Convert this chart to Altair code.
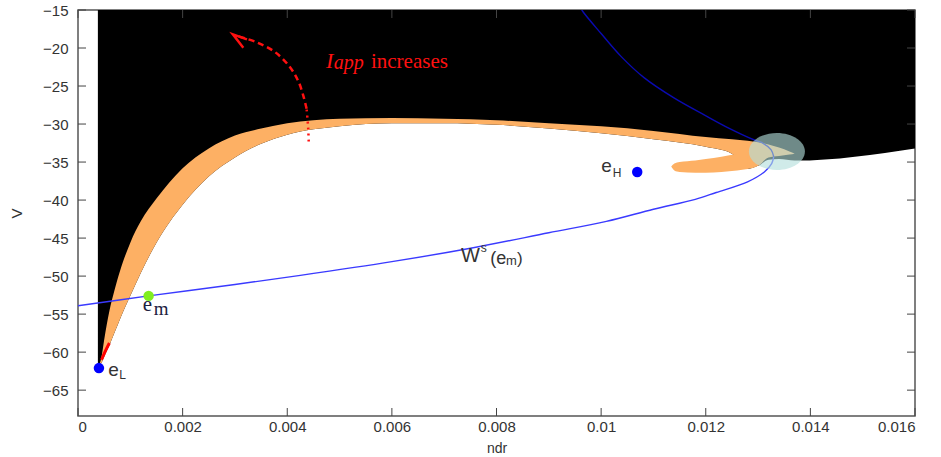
import altair as alt
import pandas as pd

# ---------------- data ----------------
# orange band (outer = upper edge, inner = lower edge)
band_x = [0.0004, 0.00045, 0.0005, 0.0006, 0.0007, 0.0008, 0.001, 0.0012, 0.0015, 0.002,
          0.0025, 0.003, 0.0035, 0.004, 0.005, 0.006, 0.007, 0.008, 0.009, 0.010,
          0.011, 0.012, 0.0125, 0.0128, 0.013, 0.0132, 0.0134, 0.0136, 0.0137]
band_outer = [-61.8, -60.6, -58.4, -54.6, -51.8, -49.4, -45.6, -42.8, -39.8, -35.8,
              -33.2, -31.5, -30.6, -29.9, -29.3, -29.2, -29.3, -29.5, -29.9, -30.3,
              -30.9, -31.7, -32.0, -32.2, -32.4, -32.7, -33.1, -33.6, -33.9]
band_inner = [-61.8, -61.4, -60.6, -59.1, -57.4, -55.7, -52.6, -49.6, -45.6, -40.6,
              -36.9, -34.4, -32.6, -31.4, -30.3, -29.9, -29.9, -30.1, -30.6, -31.2,
              -32.0, -33.0, -33.9, -35.9, -35.5, -34.4, -34.2, -34.0, -33.9]

# orange hook under the band's right end
hook_x = [0.01134, 0.0114, 0.0115, 0.0118, 0.012, 0.0123, 0.0126, 0.0128]
hook_top = [-35.6, -35.2, -35.0, -34.8, -34.6, -34.3, -34.0, -34.0]
hook_bottom = [-35.6, -36.1, -36.3, -36.4, -36.4, -36.3, -36.1, -35.9]

# lower boundary of the black region
black_x = [0.00038, 0.0004, 0.00045, 0.0005, 0.0006, 0.0007, 0.0008, 0.001, 0.0012, 0.0015,
           0.002, 0.0025, 0.003, 0.0035, 0.004, 0.005, 0.006, 0.007, 0.008, 0.009,
           0.010, 0.011, 0.012, 0.0125, 0.0128, 0.013, 0.0132, 0.0134, 0.0137, 0.016]
black_v = [-61.8, -61.8, -61.4, -60.6, -59.1, -57.4, -55.7, -52.6, -49.6, -45.6,
           -40.6, -36.9, -34.4, -32.6, -31.4, -30.3, -29.9, -29.9, -30.1, -30.6,
           -31.2, -32.0, -33.0, -33.9, -35.9, -35.5, -34.7, -34.6, -34.8, -33.2]

# stable manifold W^s(e_m): lower branch (on white) and upper branch (on black)
ws_lower_x = [0.0, 0.00135, 0.003, 0.00425, 0.006, 0.00745, 0.009, 0.0101, 0.011,
              0.0118, 0.0122, 0.0128, 0.01312, 0.01326, 0.0133]
ws_lower_v = [-53.9, -52.6, -51.1, -49.9, -48.1, -46.4, -44.3, -42.8, -41.2,
              -39.9, -39.0, -37.6, -36.3, -35.2, -34.3]
ws_upper_x = [0.0133, 0.01325, 0.01309, 0.01293, 0.01240, 0.01197, 0.0114, 0.01082,
              0.01038, 0.0100, 0.00965, 0.0096]
ws_upper_v = [-34.3, -33.4, -32.5, -32.1, -30.4, -28.8, -26.6, -23.9,
              -21.1, -18.1, -15.2, -14.6]

# red "I_app increases" arrow
arrow_dot_x = [0.00441, 0.00440, 0.00437]
arrow_dot_v = [-32.3, -30.5, -28.0]
arrow_dash_x = [0.00437, 0.00432, 0.00422, 0.00405, 0.00376, 0.00340, 0.00298]
arrow_dash_v = [-28.0, -26.6, -24.5, -22.5, -20.5, -19.2, -18.3]
head_x = [0.00323, 0.00296, 0.00316]
head_v = [-18.86, -18.2, -19.96]

# red sliver near e_L
red_x = [0.00045, 0.00052, 0.0006]
red_v = [-61.0, -59.9, -58.8]

# highlighted zone (ellipse)
zone_x = [0.01336]
zone_v = [-33.6]

# equilibria
eq_name = ["e_L", "e_H", "e_m"]
eq_x = [0.0004, 0.01069, 0.00135]
eq_v = [-62.1, -36.3, -52.6]
eq_color = ["#0000ff", "#0000ff", "#80ee20"]

x_ticks = [0, 0.002, 0.004, 0.006, 0.008, 0.010, 0.012, 0.014, 0.016]
y_ticks = [-65, -60, -55, -50, -45, -40, -35, -30, -25, -20, -15]

W, H = 837, 406
XDOM = [0, 0.016]
YDOM = [-68.4, -15]

xs = alt.Scale(domain=XDOM, nice=False, zero=False)
ys = alt.Scale(domain=YDOM, nice=False, zero=False)

def X():
    return alt.X("x:Q", scale=xs)

def Y():
    return alt.Y("v:Q", scale=ys)

base_axes_x = alt.Axis(values=x_ticks, format=".3~f", grid=False, ticks=False, tickSize=0,
                       domain=False, labelFont="Liberation Sans", labelFontSize=15,
                       labelColor="#333333", labelPadding=3, titleFont="Liberation Sans",
                       titleFontSize=14, titleFontWeight="normal", titleColor="#333333",
                       titlePadding=7)
base_axes_y = alt.Axis(values=y_ticks, format="d", grid=False, ticks=False, tickSize=0,
                       domain=False, labelFont="Liberation Sans", labelFontSize=15,
                       labelColor="#333333", labelPadding=10, titleFont="Liberation Sans",
                       titleFontSize=15, titleFontWeight="normal", titleColor="#333333",
                       titlePadding=18)

df_black = pd.DataFrame({"x": black_x, "v": black_v})
black = alt.Chart(df_black).mark_area(color="#000000", interpolate="monotone").encode(
    x=alt.X("x:Q", scale=xs, axis=base_axes_x, title="ndr"),
    y=alt.Y("v:Q", scale=ys, axis=base_axes_y, title="V"),
    y2=alt.datum(-15),
)

df_band = pd.DataFrame({"x": band_x, "v": band_outer, "v2": band_inner})
band = alt.Chart(df_band).mark_area(color="#fdb064", interpolate="monotone").encode(
    x=X(), y=Y(), y2="v2:Q")

df_hook = pd.DataFrame({"x": hook_x, "v": hook_top, "v2": hook_bottom})
hook = alt.Chart(df_hook).mark_area(color="#fdb064", interpolate="monotone").encode(
    x=X(), y=Y(), y2="v2:Q")

def line(xv, vv, color, width, dash=None, interp="catmull-rom"):
    df = pd.DataFrame({"x": xv, "v": vv, "o": list(range(len(xv)))})
    kw = dict(color=color, strokeWidth=width, clip=True, interpolate=interp)
    if dash:
        kw["strokeDash"] = dash
    return alt.Chart(df).mark_line(**kw).encode(x=X(), y=Y(), order="o:Q")

ws_lo = line(ws_lower_x, ws_lower_v, "#3a3aff", 1.4)
ws_up = line(ws_upper_x, ws_upper_v, "#0a0ab0", 1.4)
arr_dot = line(arrow_dot_x, arrow_dot_v, "#ff1010", 2.5, [2, 4])
arr_dash = line(arrow_dash_x, arrow_dash_v, "#ff1010", 2.5, [6, 4])
arr_head = line(head_x, head_v, "#ff1010", 2.5, interp="linear")
red_sl = line(red_x, red_v, "#ff0000", 3)

df_zone = pd.DataFrame({"x": zone_x, "v": zone_v})
zone = alt.Chart(df_zone).mark_point(
    shape="M -1 0 A 1 0.66 0 1 1 1 0 A 1 0.66 0 1 1 -1 0 Z",
    size=3136, filled=True, fill="#b3dedb", opacity=0.62, strokeWidth=0,
).encode(x=X(), y=Y())

df_eq = pd.DataFrame({"x": eq_x, "v": eq_v, "c": eq_color, "name": eq_name})
eqs = alt.Chart(df_eq).mark_point(filled=True, opacity=1, size=110, shape="circle").encode(
    x=X(), y=Y(), color=alt.Color("c:N", scale=None))

def txt(x, v, t, size, color, font="Liberation Sans", style="normal"):
    df = pd.DataFrame({"x": [x], "v": [v], "t": [t]})
    return alt.Chart(df).mark_text(align="left", baseline="alphabetic", fontSize=size,
                                   font=font, fontStyle=style, color=color).encode(
        x=X(), y=Y(), text="t:N")

labels = [
    # e_L
    txt(0.00058, -63.2, "e", 19, "#333333"),
    txt(0.00079, -63.5, "L", 12, "#333333"),
    # e_H
    txt(0.01000, -36.3, "e", 19, "#333333"),
    txt(0.01022, -36.95, "H", 12, "#333333"),
    # e_m (serif)
    txt(0.00124, -54.6, "e", 21, "#202040", "Liberation Serif"),
    txt(0.00145, -55.1, "m", 19, "#202040", "Liberation Serif"),
    # W^s(e_m)
    txt(0.00732, -48.2, "W", 20, "#333333"),
    txt(0.00770, -46.8, "s", 12, "#333333"),
    txt(0.00788, -48.4, "(e", 18, "#333333"),
    txt(0.00818, -48.6, "m", 13, "#333333"),
    txt(0.00839, -48.4, ")", 17, "#333333"),
    # I_app increases
    txt(0.00474, -22.6, "I", 22, "#ff1010", "Liberation Serif", "italic"),
    txt(0.00489, -22.8, "app", 20, "#ff1010", "Liberation Serif", "italic"),
    txt(0.00560, -22.6, "increases", 21, "#ff1010", "Liberation Serif"),
]

# inside tick marks (MATLAB style) on all four sides
df_yt = pd.DataFrame({"v": y_ticks})
df_xt = pd.DataFrame({"x": x_ticks})
tick_col = "#444444"
tl = alt.Chart(df_yt).mark_rule(color=tick_col, strokeWidth=1).encode(
    y=Y(), x=alt.value(0), x2=alt.value(8))
tr = alt.Chart(df_yt).mark_rule(color=tick_col, strokeWidth=1).encode(
    y=Y(), x=alt.value(W - 8), x2=alt.value(W))
tb = alt.Chart(df_xt).mark_rule(color=tick_col, strokeWidth=1).encode(
    x=X(), y=alt.value(H - 8), y2=alt.value(H))
tt = alt.Chart(df_xt).mark_rule(color=tick_col, strokeWidth=1).encode(
    x=X(), y=alt.value(0), y2=alt.value(8))

chart = alt.layer(
    black, band, hook, red_sl, ws_lo, ws_up, zone, arr_dot, arr_dash, arr_head,
    eqs, *labels, tl, tr, tb, tt,
).properties(
    width=W, height=H,
    autosize=alt.AutoSizeParams(type="none"),
    padding={"left": 78, "top": 10, "right": 26, "bottom": 41},
    background="white",
).configure_view(stroke="#555555", strokeWidth=1.5, fill="white")

chart.save("out.html", embed_options={"renderer": "svg", "actions": False})
